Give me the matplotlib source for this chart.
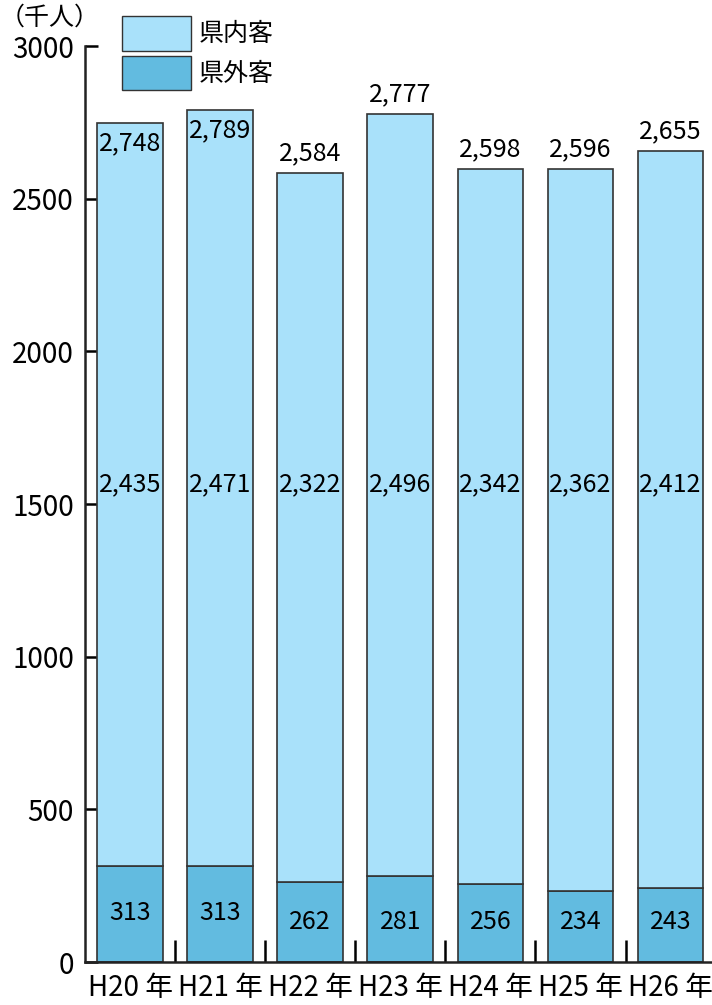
import matplotlib
matplotlib.use("Agg")
import matplotlib.pyplot as plt
from matplotlib.patches import Patch
import numpy as np

plt.rcParams['font.family'] = ['Noto Sans CJK JP', 'DejaVu Sans']

categories = ["H20 年", "H21 年", "H22 年", "H23 年", "H24 年", "H25 年", "H26 年"]
outside = [313, 313, 262, 281, 256, 234, 243]          # 県外客
inside = [2435, 2471, 2322, 2496, 2342, 2362, 2412]    # 県内客
totals = [2748, 2789, 2584, 2777, 2598, 2596, 2655]
yticks = [0, 500, 1000, 1500, 2000, 2500, 3000]

c_in = "#A9E1FA"
c_out = "#62BBE0"
edge = "#333333"

fig = plt.figure(figsize=(7.12, 10.05), dpi=100)
ax = fig.add_axes([85/712, 1-962/1005, 1-85/712, (962-46)/1005])

x = np.arange(len(categories))
top_h = [t - o for t, o in zip(totals, outside)]
ax.bar(x, outside, width=0.73, color=c_out, edgecolor=edge, linewidth=1.2, zorder=2)
ax.bar(x, top_h, bottom=outside, width=0.73, color=c_in, edgecolor=edge, linewidth=1.2, zorder=2)

fs = 18
for i in range(len(x)):
    if i < 2:
        ax.text(x[i], totals[i] - 65, f"{totals[i]:,}", ha='center', va='center', fontsize=fs, clip_on=False)
    else:
        ax.text(x[i], totals[i] + 65, f"{totals[i]:,}", ha='center', va='center', fontsize=fs, clip_on=False)
    ax.text(x[i], 1565, f"{inside[i]:,}", ha='center', va='center', fontsize=fs)
    ax.text(x[i], outside[i] / 2 + 5 if outside[i] > 300 else 130, f"{outside[i]}", ha='center', va='center', fontsize=fs)

ax.set_xlim(-0.5, 6.46)
ax.set_ylim(0, 3000)
ax.set_yticks(yticks)
ax.set_yticklabels([str(v) for v in yticks], fontsize=20)
ax.tick_params(axis='y', direction='in', length=9, width=1.8, pad=8)
ax.set_xticks(x)
ax.set_xticklabels(categories, fontsize=20)
ax.tick_params(axis='x', which='major', length=0, pad=8)
ax.set_xticks(np.arange(0.5, 6.0, 1.0), minor=True)
ax.tick_params(axis='x', which='minor', direction='in', length=16, width=1.8)

for s in ['top', 'right']:
    ax.spines[s].set_visible(False)
for s in ['left', 'bottom']:
    ax.spines[s].set_linewidth(1.8)
    ax.spines[s].set_color('#222222')

fig.text(0.0, 1 - 18/1005, "（千人）", fontsize=18, ha='left', va='center')

handles = [Patch(facecolor=c_in, edgecolor=edge, label="県内客"),
           Patch(facecolor=c_out, edgecolor=edge, label="県外客")]
fig.legend(handles=handles, loc='upper left', bbox_to_anchor=(122/712, 1 - 16/1005),
           frameon=False, fontsize=18, handlelength=2.75, handleheight=1.75,
           handletextpad=0.3, labelspacing=0.2, borderaxespad=0, borderpad=0)

fig.savefig("out.png", dpi=100)
